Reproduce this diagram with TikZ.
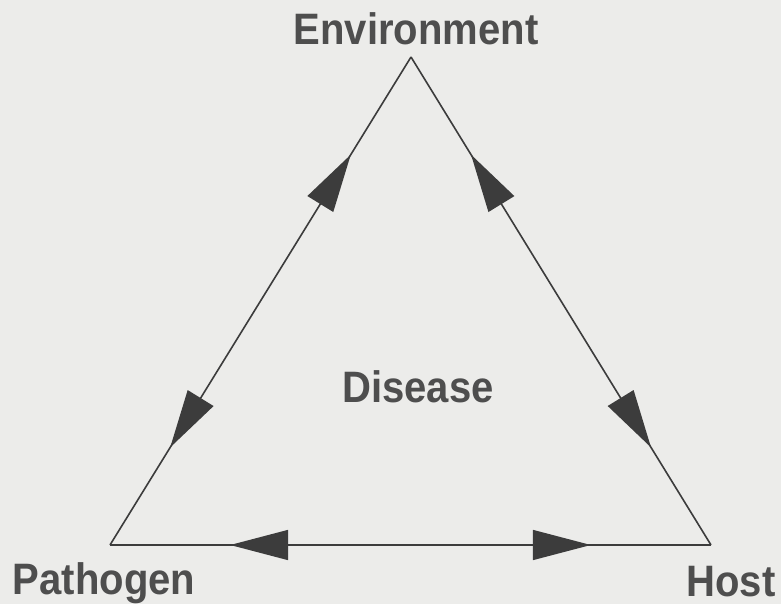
\documentclass[tikz,border=0pt]{standalone}
\usepackage{fontspec}
\setmainfont{Liberation Sans}[FakeStretch=0.91]
\usetikzlibrary{arrows.meta,decorations.markings}
\definecolor{bg}{RGB}{236,236,234}
\definecolor{ink}{RGB}{60,60,60}
\definecolor{txt}{RGB}{78,78,78}
\tikzset{
  lbl/.style={text=txt,font=\fontsize{44}{44}\selectfont\bfseries,inner sep=0pt,anchor=base},
  edge/.style={draw=ink,line width=1.6pt},
  twoway/.style={edge,postaction={decorate},decoration={markings,
     mark=at position 0.2 with {\arrowreversed[ink]{Triangle[length=58pt,width=30pt]}},
     mark=at position 0.8 with {\arrow[ink]{Triangle[length=58pt,width=30pt]}}}}
}
\begin{document}
\begin{tikzpicture}[x=1pt,y=-1pt]
\fill[bg] (0,0) rectangle (781,604);
\useasboundingbox (0,0) rectangle (781,604);
\coordinate (E) at (411,57);
\coordinate (P) at (110,545);
\coordinate (H) at (711,545);
\draw[twoway] (P) -- (E);
\draw[twoway] (H) -- (E);
\draw[twoway] (P) -- (H);
\node[lbl] (env) at (416,45) {Environment};
\node[lbl] (dis) at (418,402) {Disease};
\node[lbl] (pat) at (104,594) {Pathogen};
\node[lbl] (host) at (731,596) {Host};
\end{tikzpicture}
\end{document}
